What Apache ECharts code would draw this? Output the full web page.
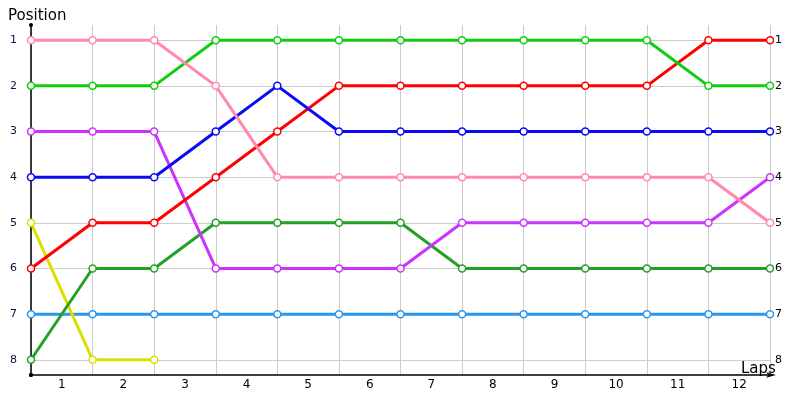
<!DOCTYPE html>
<html>
<head>
<meta charset="utf-8">
<script src="https://cdn.jsdelivr.net/npm/echarts@6/dist/echarts.min.js"></script>
<style>
  html, body { margin: 0; padding: 0; background: #fff; }
  #chart { width: 800px; height: 400px; }
</style>
</head>
<body>
<div id="chart"></div>
<script>
// lap labels under the axis, positions on the y axis
const lapLabels = ['1', '2', '3', '4', '5', '6', '7', '8', '9', '10', '11', '12'];
const positions = [1, 2, 3, 4, 5, 6, 7, 8];

// position of each driver at the end of lap 0..12
const pinkPos   = [1, 1, 1, 2, 4, 4, 4, 4, 4, 4, 4, 4, 5];
const greenPos  = [2, 2, 2, 1, 1, 1, 1, 1, 1, 1, 1, 2, 2];
const purplePos = [3, 3, 3, 6, 6, 6, 6, 5, 5, 5, 5, 5, 4];
const bluePos   = [4, 4, 4, 3, 2, 3, 3, 3, 3, 3, 3, 3, 3];
const yellowPos = [5, 8, 8];
const redPos    = [6, 5, 5, 4, 3, 2, 2, 2, 2, 2, 2, 1, 1];
const dkGreenPos = [8, 6, 6, 5, 5, 5, 5, 6, 6, 6, 6, 6, 6];
const skyPos    = [7, 7, 7, 7, 7, 7, 7, 7, 7, 7, 7, 7, 7];

const drivers = [
  {data: skyPos, color: '#2a96ee'},
  {data: yellowPos, color: '#dede00'},
  {data: dkGreenPos, color: '#24a024'},
  {data: purplePos, color: '#cc33ff'},
  {data: redPos, color: '#ff0000'},
  {data: bluePos, color: '#0a0af5'},
  {data: greenPos, color: '#11cc11'},
  {data: pinkPos, color: '#ff8aaa'}
];

const chart = echarts.init(document.getElementById('chart'));
const font = 'Tahoma, "DejaVu Sans", sans-serif';

const option = {
  animation: false,
  title: [
    {text: 'Position', left: 3, top: 4, textStyle: {fontFamily: font, fontSize: 15, fontWeight: 'normal', color: '#000'}},
    {text: 'Laps', left: 736, top: 357, textStyle: {fontFamily: font, fontSize: 15, fontWeight: 'normal', color: '#000'}}
  ],
  grid: {left: 31, right: 30, top: 25, bottom: 25, containLabel: false},
  xAxis: [
    {
      type: 'value', min: 0, max: 12, interval: 1,
      axisLine: {lineStyle: {color: '#000', width: 1.5}, symbol: ['circle', 'arrow'], symbolSize: [4, 10], symbolOffset: [0, 6]},
      axisTick: {show: false},
      axisLabel: {show: false},
      splitLine: {show: true, lineStyle: {color: '#cccccc', width: 1}}
    },
    {
      type: 'category', data: lapLabels, boundaryGap: true, position: 'bottom',
      axisLine: {show: false}, axisTick: {show: false},
      axisLabel: {fontFamily: font, fontSize: 12, color: '#000', margin: 4}
    }
  ],
  yAxis: [
    {
      type: 'value', inverse: true, min: 2 / 3, max: 8 + 1 / 3,
      axisLine: {show: true, lineStyle: {color: '#000', width: 1.5}, symbol: ['circle', 'circle'], symbolSize: [4, 4]},
      axisTick: {show: false, customValues: positions},
      axisLabel: {fontFamily: font, fontSize: 11, color: '#101040', margin: 14, customValues: positions},
      splitLine: {show: true, lineStyle: {color: '#cccccc', width: 1}}
    },
    {
      type: 'value', inverse: true, min: 2 / 3, max: 8 + 1 / 3, position: 'right',
      axisLine: {show: false}, axisTick: {show: false, customValues: positions},
      axisLabel: {fontFamily: font, fontSize: 11, color: '#000', margin: 5, customValues: positions},
      splitLine: {show: false}
    }
  ],
  series: drivers.map(d => ({
    type: 'line',
    xAxisIndex: 0,
    yAxisIndex: 0,
    data: d.data.map((p, i) => [i, p]),
    symbol: 'circle',
    symbolSize: 7,
    lineStyle: {color: d.color, width: 3},
    itemStyle: {color: '#fff', borderColor: d.color, borderWidth: 1.5}
  }))
};

chart.setOption(option);
</script>
</body>
</html>
